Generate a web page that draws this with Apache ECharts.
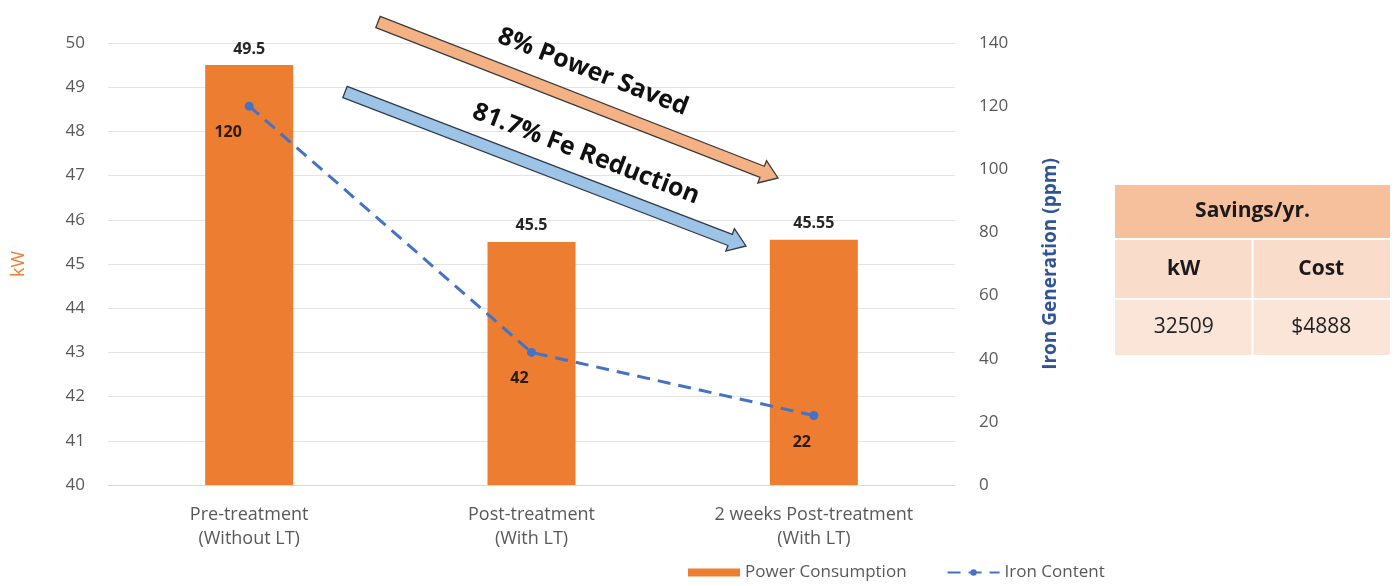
<!DOCTYPE html>
<html>
<head>
<meta charset="utf-8">
<script src="https://cdn.jsdelivr.net/npm/echarts@6/dist/echarts.min.js"></script>
<style>
  html, body { margin: 0; padding: 0; background: #ffffff; }
  #chart { width: 1397px; height: 586px; }
</style>
</head>
<body>
<div id="chart"></div>
<script>
// Categories and series values
const categories = ['Pre-treatment\n(Without LT)', 'Post-treatment\n(With LT)', '2 weeks Post-treatment\n(With LT)'];
const powerConsumption = [49.5, 45.5, 45.55];
const ironContent = [120, 42, 22];

// Savings table contents
const tableTitle = 'Savings/yr.';
const tableHeaders = ['kW', 'Cost'];
const tableValues = ['32509', '$4888'];

// Arrow captions
const powerCaption = '8% Power Saved';
const ironCaption = '81.7% Fe Reduction';

const FONT = '"Open Sans", "Liberation Sans", sans-serif';
const ORANGE = '#ED7D31';
const BLUE = '#4472C4';

// Builds a block arrow polygon from tail to tip
function arrowPoints(x1, y1, x2, y2, shaftHalf, headHalf, headLen) {
  const dx = x2 - x1, dy = y2 - y1;
  const len = Math.hypot(dx, dy);
  const ux = dx / len, uy = dy / len;
  const nx = -uy, ny = ux;
  const bx = x2 - ux * headLen, by = y2 - uy * headLen;
  return [
    [x1 + nx * shaftHalf, y1 + ny * shaftHalf],
    [bx + nx * shaftHalf, by + ny * shaftHalf],
    [bx + nx * headHalf, by + ny * headHalf],
    [x2, y2],
    [bx - nx * headHalf, by - ny * headHalf],
    [bx - nx * shaftHalf, by - ny * shaftHalf],
    [x1 - nx * shaftHalf, y1 - ny * shaftHalf]
  ];
}

const angleOrange = Math.atan2(178 - 22, 778 - 378);
const angleBlue = Math.atan2(246 - 92, 746 - 345);

const tableX = 1115, tableW = 275, colW = tableW / 2;
const rowTops = [185, 240, 300];
const rowHeights = [53, 58, 55];

const graphics = [
  // arrows
  {
    type: 'polygon', z: 10,
    shape: { points: arrowPoints(378, 22, 778, 178, 6, 12, 17) },
    style: { fill: '#F4B183', stroke: '#3b3b3b', lineWidth: 1.3 }
  },
  {
    type: 'polygon', z: 10,
    shape: { points: arrowPoints(345, 92, 746, 246, 6, 12, 17) },
    style: { fill: '#9DC3E6', stroke: '#2f3b4a', lineWidth: 1.3 }
  },
  {
    type: 'text', z: 11, x: 593, y: 72, rotation: -angleOrange,
    style: { text: powerCaption, font: 'bold 25px ' + FONT, fill: '#111', align: 'center', verticalAlign: 'middle' }
  },
  {
    type: 'text', z: 11, x: 586, y: 154, rotation: -angleBlue,
    style: { text: ironCaption, font: 'bold 25px ' + FONT, fill: '#111', align: 'center', verticalAlign: 'middle' }
  },
  // savings table
  {
    type: 'rect', shape: { x: tableX, y: rowTops[0], width: tableW, height: rowHeights[0] },
    style: { fill: '#F6C09D' }
  },
  {
    type: 'rect', shape: { x: tableX, y: rowTops[1], width: colW - 1, height: rowHeights[1] },
    style: { fill: '#FADCCB' }
  },
  {
    type: 'rect', shape: { x: tableX + colW + 1, y: rowTops[1], width: colW - 1, height: rowHeights[1] },
    style: { fill: '#FADCCB' }
  },
  {
    type: 'rect', shape: { x: tableX, y: rowTops[2], width: colW - 1, height: rowHeights[2] },
    style: { fill: '#FBE5D8' }
  },
  {
    type: 'rect', shape: { x: tableX + colW + 1, y: rowTops[2], width: colW - 1, height: rowHeights[2] },
    style: { fill: '#FBE5D8' }
  },
  {
    type: 'text', x: tableX + tableW / 2, y: rowTops[0] + rowHeights[0] / 2,
    style: { text: tableTitle, font: 'bold 21px ' + FONT, fill: '#1a1a1a', align: 'center', verticalAlign: 'middle' }
  },
  {
    type: 'text', x: tableX + colW / 2, y: rowTops[1] + rowHeights[1] / 2,
    style: { text: tableHeaders[0], font: 'bold 21px ' + FONT, fill: '#1a1a1a', align: 'center', verticalAlign: 'middle' }
  },
  {
    type: 'text', x: tableX + colW * 1.5, y: rowTops[1] + rowHeights[1] / 2,
    style: { text: tableHeaders[1], font: 'bold 21px ' + FONT, fill: '#1a1a1a', align: 'center', verticalAlign: 'middle' }
  },
  {
    type: 'text', x: tableX + colW / 2, y: rowTops[2] + rowHeights[2] / 2,
    style: { text: tableValues[0], font: '21px ' + FONT, fill: '#222', align: 'center', verticalAlign: 'middle' }
  },
  {
    type: 'text', x: tableX + colW * 1.5, y: rowTops[2] + rowHeights[2] / 2,
    style: { text: tableValues[1], font: '21px ' + FONT, fill: '#222', align: 'center', verticalAlign: 'middle' }
  }
];

// Iron content points, with the first label pushed a little further left
const ironData = ironContent.map((v, i) => ({
  value: v,
  label: { offset: [i === 0 ? -21 : -12, 0] }
}));

const chart = echarts.init(document.getElementById('chart'), null, { renderer: 'canvas' });
chart.setOption({
  animation: false,
  backgroundColor: '#ffffff',
  textStyle: { fontFamily: FONT },
  grid: { left: 108, right: 442, top: 43, bottom: 101, containLabel: false },
  legend: {
    bottom: 0, left: 683,
    itemGap: 40, itemWidth: 52, itemHeight: 8,
    textStyle: { color: '#595959', fontSize: 17, fontFamily: FONT },
    data: [
      { name: 'Power Consumption', icon: 'rect' },
      { name: 'Iron Content' }
    ]
  },
  xAxis: {
    type: 'category',
    data: categories,
    axisLine: { lineStyle: { color: '#d9d9d9' } },
    axisTick: { show: false },
    axisLabel: { color: '#595959', fontSize: 18, lineHeight: 24, margin: 18, fontFamily: FONT }
  },
  yAxis: [
    {
      type: 'value', min: 40, max: 50, interval: 1,
      name: 'kW', nameLocation: 'middle', nameGap: 80, nameRotate: 90,
      nameTextStyle: { color: ORANGE, fontSize: 18, fontFamily: FONT },
      axisLine: { show: false }, axisTick: { show: false },
      axisLabel: { color: '#595959', fontSize: 17, margin: 23, fontFamily: FONT },
      splitLine: { lineStyle: { color: '#e3e3e3', width: 1 } }
    },
    {
      type: 'value', min: 0, max: 140, interval: 20,
      name: 'Iron Generation (ppm)', nameLocation: 'middle', nameGap: 86, nameRotate: 90,
      nameTextStyle: { color: '#2F5597', fontSize: 19, fontWeight: 'bold', fontFamily: FONT },
      axisLine: { show: false }, axisTick: { show: false },
      axisLabel: { color: '#595959', fontSize: 17, margin: 24, fontFamily: FONT },
      splitLine: { show: false }
    }
  ],
  series: [
    {
      name: 'Power Consumption',
      type: 'bar',
      data: powerConsumption,
      barWidth: 88,
      itemStyle: { color: ORANGE },
      label: {
        show: true, position: 'top', distance: 8,
        color: '#262626', fontSize: 16, fontWeight: 'bold', fontFamily: FONT
      }
    },
    {
      name: 'Iron Content',
      type: 'line',
      yAxisIndex: 1,
      data: ironData,
      symbol: 'circle', symbolSize: 9,
      lineStyle: { color: BLUE, width: 3, type: [13, 8] },
      itemStyle: { color: BLUE },
      label: {
        show: true, position: 'bottom', distance: 14,
        color: '#2b1a0e', fontSize: 16, fontWeight: 'bold', fontFamily: FONT
      }
    }
  ],
  graphic: graphics
});
</script>
</body>
</html>
